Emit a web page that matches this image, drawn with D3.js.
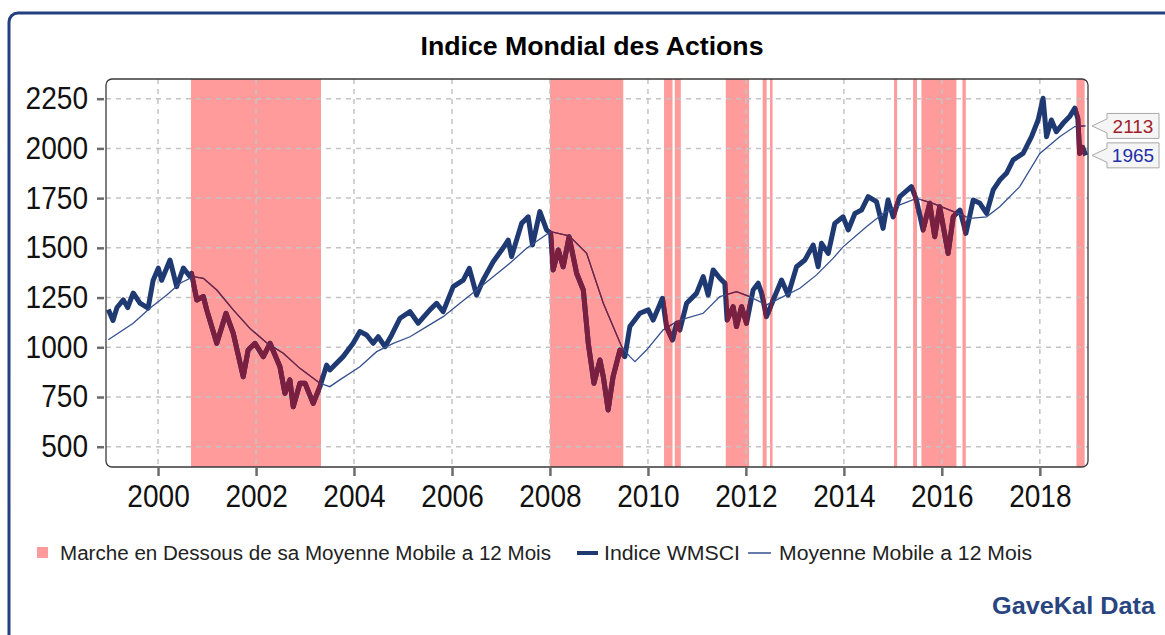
<!DOCTYPE html>
<html>
<head>
<meta charset="utf-8">
<script src="https://cdnjs.cloudflare.com/ajax/libs/d3/7.8.5/d3.min.js"></script>
<style>
body { margin: 0; background: #fff; }
text { font-family: Arial, "Liberation Sans", sans-serif; }
</style>
</head>
<body>
<svg width="1165" height="635"></svg>
<script>
// Indice WMSCI
var indexPoints = [
  ["1998-12-26",1190],["1999-01-30",1135],["1999-03-01",1200],["1999-04-17",1238],["1999-05-20",1200],
  ["1999-06-30",1273],["1999-08-19",1222],["1999-10-19",1197],["1999-11-25",1336],["2000-01-03",1398],
  ["2000-01-28",1337],["2000-03-30",1439],["2000-05-19",1305],["2000-07-08",1398],["2000-08-27",1355],
  ["2000-09-06",1372],["2000-10-16",1238],["2000-12-04",1255],["2000-12-29",1188],["2001-03-14",1020],
  ["2001-05-22",1171],["2001-07-15",1070],["2001-09-27",852],["2001-11-03",986],["2001-12-24",1020],
  ["2002-02-24",953],["2002-04-15",1020],["2002-06-28",902],["2002-08-04",768],["2002-09-10",836],
  ["2002-10-05",701],["2002-11-24",819],["2003-01-01",819],["2003-03-03",718],["2003-04-22",802],
  ["2003-06-11",910],["2003-07-05",886],["2003-10-12",953],["2003-12-26",1020],["2004-02-14",1079],
  ["2004-04-04",1062],["2004-05-23",1020],["2004-06-30",1053],["2004-08-19",1003],["2004-10-08",1062],
  ["2004-12-09",1146],["2005-02-22",1179],["2005-04-24",1121],["2005-07-20",1188],["2005-09-08",1221],
  ["2005-10-27",1179],["2006-01-10",1305],["2006-03-26",1338],["2006-05-10",1397],["2006-07-03",1263],
  ["2006-08-21",1338],["2006-11-04",1430],["2007-01-06",1489],["2007-02-24",1539],["2007-03-21",1456],
  ["2007-06-04",1623],["2007-07-23",1656],["2007-08-24",1514],["2007-10-18",1682],["2007-12-07",1590],
  ["2008-01-06",1573],["2008-01-25",1389],["2008-03-03",1489],["2008-04-09",1405],["2008-05-23",1556],
  ["2008-07-18",1372],["2008-09-06",1288],["2008-10-13",1020],["2008-11-07",902],["2008-11-24",819],
  ["2009-01-08",936],["2009-02-02",852],["2009-03-10",685],["2009-04-16",852],["2009-06-06",986],
  ["2009-07-13",953],["2009-08-19",1104],["2009-11-02",1171],["2010-01-03",1188],["2010-02-09",1137],
  ["2010-04-19",1246],["2010-05-19",1104],["2010-07-03",1037],["2010-08-02",1121],["2010-08-27",1087],
  ["2010-10-16",1221],["2010-12-29",1271],["2011-02-17",1355],["2011-03-26",1263],["2011-05-02",1389],
  ["2011-06-21",1347],["2011-07-28",1322],["2011-08-14",1137],["2011-09-28",1204],["2011-10-23",1104],
  ["2011-11-30",1204],["2012-01-06",1121],["2012-02-24",1288],["2012-04-02",1322],["2012-04-27",1271],
  ["2012-06-03",1154],["2012-07-23",1238],["2012-09-23",1338],["2012-11-11",1263],["2013-01-13",1405],
  ["2013-03-16",1439],["2013-05-17",1514],["2013-06-23",1405],["2013-07-18",1523],["2013-09-06",1472],
  ["2013-10-25",1623],["2013-12-26",1656],["2014-02-02",1590],["2014-03-24",1673],["2014-05-12",1690],
  ["2014-07-01",1757],["2014-09-01",1732],["2014-10-20",1598],["2014-11-26",1741],["2015-01-03",1656],
  ["2015-02-22",1757],["2015-05-19",1808],["2015-06-26",1741],["2015-08-14",1590],["2015-10-03",1724],
  ["2015-11-09",1556],["2015-12-16",1707],["2016-02-17",1472],["2016-03-26",1656],["2016-05-15",1690],
  ["2016-06-29",1573],["2016-08-22",1741],["2016-10-11",1724],["2016-11-30",1673],["2017-01-18",1791],
  ["2017-03-08",1841],["2017-04-27",1875],["2017-06-16",1942],["2017-08-29",1975],["2017-10-31",2059],
  ["2017-12-19",2143],["2018-01-25",2252],["2018-02-20",2059],["2018-03-28",2143],["2018-05-04",2084],
  ["2018-06-23",2126],["2018-08-11",2160],["2018-09-18",2202],["2018-10-11",2150],["2018-10-25",1975],
  ["2018-11-17",2005],["2018-12-09",1965]
];

// Moyenne Mobile a 12 Mois
var maPoints = [
  ["1998-12-26",1038],["1999-06-30",1121],["1999-11-01",1196],["2000-03-06",1263],["2000-06-13",1322],
  ["2000-09-20",1355],["2000-12-04",1347],["2001-03-14",1288],["2001-07-15",1188],["2001-11-16",1095],
  ["2002-03-20",1023],["2002-07-23",970],["2002-11-24",894],["2003-04-22",819],["2003-07-05",802],
  ["2003-09-17",836],["2004-02-14",902],["2004-06-18",978],["2004-10-20",1020],["2005-02-22",1053],
  ["2005-06-26",1104],["2005-10-27",1154],["2006-03-01",1221],["2006-07-03",1288],["2006-11-04",1355],
  ["2007-03-08",1422],["2007-07-11",1498],["2007-11-12",1556],["2008-01-06",1581],["2008-05-23",1560],
  ["2008-10-01",1472],["2009-02-02",1221],["2009-06-19",1003],["2009-08-19",953],["2009-09-26",928],
  ["2009-12-21",986],["2010-04-23",1087],["2010-08-02",1129],["2010-10-16",1146],["2011-02-17",1171],
  ["2011-06-21",1255],["2011-10-23",1280],["2012-01-30",1255],["2012-06-03",1213],["2012-10-05",1255],
  ["2013-02-07",1297],["2013-06-11",1364],["2013-10-12",1447],["2013-12-26",1505],["2014-06-18",1606],
  ["2014-10-20",1673],["2015-02-22",1716],["2015-06-26",1749],["2015-10-27",1724],["2016-03-01",1690],
  ["2016-07-28",1648],["2016-11-30",1656],["2017-03-08",1707],["2017-08-04",1808],["2018-01-01",1975],
  ["2018-05-29",2059],["2018-09-18",2110],["2018-12-09",2113]
];

// periodes ou le marche est sous sa moyenne mobile
var bands = [
  ["2000-09-03","2003-04-30"],["2008-01-01","2009-07-01"],["2010-05-01","2010-07-03"],
  ["2010-07-20","2010-09-03"],["2011-08-04","2012-01-25"],["2012-05-05","2012-06-04"],
  ["2012-06-29","2012-07-18"],["2015-01-10","2015-02-02"],["2015-06-01","2015-06-30"],
  ["2015-08-02","2016-04-19"],["2016-06-03","2016-06-28"],["2018-10-01","2018-12-01"]
];

var yTicks = [500, 750, 1000, 1250, 1500, 1750, 2000, 2250];
var xTickYears = [2000, 2002, 2004, 2006, 2008, 2010, 2012, 2014, 2016, 2018];
var lastLabels = [["2113", 2113, "#a11d2b"], ["1965", 1965, "#1f2fa8"]];

var navy = "#1f3a73", maroon = "#7a1f3f", pink = "#ff9b9b";
var parse = d3.timeParse("%Y-%m-%d");

var svg = d3.select("svg");
var plotLeft = 106, plotTop = 79, plotRight = 1088, plotBottom = 467;

var x = d3.scaleTime()
    .domain([new Date(1998, 11, 9), new Date(2018, 11, 26)])
    .range([plotLeft, plotRight]);
var y = d3.scaleLinear()
    .domain([398, 2349])
    .range([plotBottom, plotTop]);

// outer frame
svg.append("rect")
    .attr("x", 9).attr("y", 13)
    .attr("width", 1175).attr("height", 640)
    .attr("rx", 9)
    .attr("fill", "none")
    .attr("stroke", "#243f7f")
    .attr("stroke-width", 3);

svg.append("text")
    .attr("x", 592).attr("y", 55)
    .attr("text-anchor", "middle")
    .attr("font-size", 25)
    .attr("font-weight", "bold")
    .attr("textLength", 343)
    .attr("lengthAdjust", "spacingAndGlyphs")
    .text("Indice Mondial des Actions");

// bands
svg.append("g").selectAll("rect")
    .data(bands)
    .enter().append("rect")
    .attr("x", function(d) { return x(parse(d[0])); })
    .attr("width", function(d) { return x(parse(d[1])) - x(parse(d[0])); })
    .attr("y", plotTop)
    .attr("height", plotBottom - plotTop)
    .attr("fill", pink);

var clip = svg.append("clipPath").attr("id", "bandclip");
clip.selectAll("rect")
    .data(bands)
    .enter().append("rect")
    .attr("x", function(d) { return x(parse(d[0])); })
    .attr("width", function(d) { return x(parse(d[1])) - x(parse(d[0])); })
    .attr("y", 0)
    .attr("height", 635);

// grid
var grid = svg.append("g")
    .attr("stroke", "#c4c4c4")
    .attr("stroke-width", 1.5)
    .attr("stroke-dasharray", "5,5");
grid.selectAll(".h")
    .data(yTicks)
    .enter().append("line")
    .attr("x1", plotLeft).attr("x2", plotRight)
    .attr("y1", function(d) { return y(d); })
    .attr("y2", function(d) { return y(d); });
grid.selectAll(".v")
    .data(xTickYears)
    .enter().append("line")
    .attr("y1", plotTop).attr("y2", plotBottom)
    .attr("x1", function(d) { return x(new Date(d, 0, 1)); })
    .attr("x2", function(d) { return x(new Date(d, 0, 1)); });

// lines
var line = d3.line()
    .x(function(d) { return x(parse(d[0])); })
    .y(function(d) { return y(d[1]); });

svg.append("path")
    .attr("d", line(indexPoints))
    .attr("fill", "none")
    .attr("stroke", navy)
    .attr("stroke-width", 5)
    .attr("stroke-linejoin", "round");
svg.append("path")
    .attr("d", line(indexPoints))
    .attr("fill", "none")
    .attr("stroke", maroon)
    .attr("stroke-width", 5)
    .attr("stroke-linejoin", "round")
    .attr("clip-path", "url(#bandclip)");
svg.append("path")
    .attr("d", line(maPoints))
    .attr("fill", "none")
    .attr("stroke", "#34508f")
    .attr("stroke-width", 1.3);
svg.append("path")
    .attr("d", line(maPoints))
    .attr("fill", "none")
    .attr("stroke", maroon)
    .attr("stroke-width", 1.3)
    .attr("clip-path", "url(#bandclip)");

// plot border
svg.append("rect")
    .attr("x", plotLeft).attr("y", plotTop)
    .attr("width", plotRight - plotLeft).attr("height", plotBottom - plotTop)
    .attr("rx", 6)
    .attr("fill", "none")
    .attr("stroke", "#3a3a3a")
    .attr("stroke-width", 1.3);

// axes
var yAxis = svg.append("g")
    .attr("transform", "translate(" + (plotLeft - 2) + ",0)")
    .call(d3.axisLeft(y).tickValues(yTicks).tickFormat(d3.format("d"))
        .tickSize(7).tickPadding(9));
var xAxis = svg.append("g")
    .attr("transform", "translate(0," + (plotBottom + 1) + ")")
    .call(d3.axisBottom(x)
        .tickValues(xTickYears.map(function(d) { return new Date(d, 0, 1); }))
        .tickFormat(d3.timeFormat("%Y"))
        .tickSize(8).tickPadding(9));

[yAxis, xAxis].forEach(function(ax) {
    ax.select(".domain").remove();
    ax.selectAll(".tick line").attr("stroke", "#6b6b6b").attr("stroke-width", 2.5);
    ax.selectAll(".tick text")
        .attr("font-family", "Arial, 'Liberation Sans', sans-serif")
        .attr("font-size", 31)
        .attr("fill", "#111")
        .attr("textLength", function() { return this.textContent.length * 15.6; })
        .attr("lengthAdjust", "spacingAndGlyphs");
});

// end labels
var callout = svg.append("g").selectAll("g")
    .data(lastLabels)
    .enter().append("g");
callout.append("path")
    .attr("d", function(d) {
        var yv = y(d[1]);
        return "M1092," + yv + "L1107," + (yv - 7) + "L1107," + (yv - 12.5) +
            "L1159," + (yv - 12.5) + "L1159," + (yv + 12.5) + "L1107," + (yv + 12.5) +
            "L1107," + (yv + 7) + "Z";
    })
    .attr("fill", "#f5f5f5")
    .attr("stroke", "#a8a8a8")
    .attr("stroke-width", 1);
callout.append("text")
    .attr("x", 1133)
    .attr("y", function(d) { return y(d[1]) + 7; })
    .attr("text-anchor", "middle")
    .attr("font-size", 19)
    .attr("fill", function(d) { return d[2]; })
    .text(function(d) { return d[0]; });

// legend
var lg = svg.append("g").attr("font-size", 20).attr("fill", "#222");
lg.append("rect").attr("x", 37).attr("y", 547).attr("width", 11).attr("height", 11).attr("fill", pink);
lg.append("text").attr("x", 60).attr("y", 560)
    .attr("textLength", 491).attr("lengthAdjust", "spacingAndGlyphs")
    .text("Marche en Dessous de sa Moyenne Mobile a 12 Mois");
lg.append("line").attr("x1", 577).attr("x2", 598).attr("y1", 553).attr("y2", 553)
    .attr("stroke", navy).attr("stroke-width", 4);
lg.append("text").attr("x", 604).attr("y", 560)
    .attr("textLength", 136).attr("lengthAdjust", "spacingAndGlyphs")
    .text("Indice WMSCI");
lg.append("line").attr("x1", 748).attr("x2", 771).attr("y1", 553).attr("y2", 553)
    .attr("stroke", "#34508f").attr("stroke-width", 1.5);
lg.append("text").attr("x", 779).attr("y", 560)
    .attr("textLength", 253).attr("lengthAdjust", "spacingAndGlyphs")
    .text("Moyenne Mobile a 12 Mois");

svg.append("text")
    .attr("x", 1155).attr("y", 614)
    .attr("text-anchor", "end")
    .attr("font-size", 24)
    .attr("font-weight", "bold")
    .attr("fill", "#29457f")
    .attr("textLength", 163)
    .attr("lengthAdjust", "spacingAndGlyphs")
    .text("GaveKal Data");
</script>
</body>
</html>
